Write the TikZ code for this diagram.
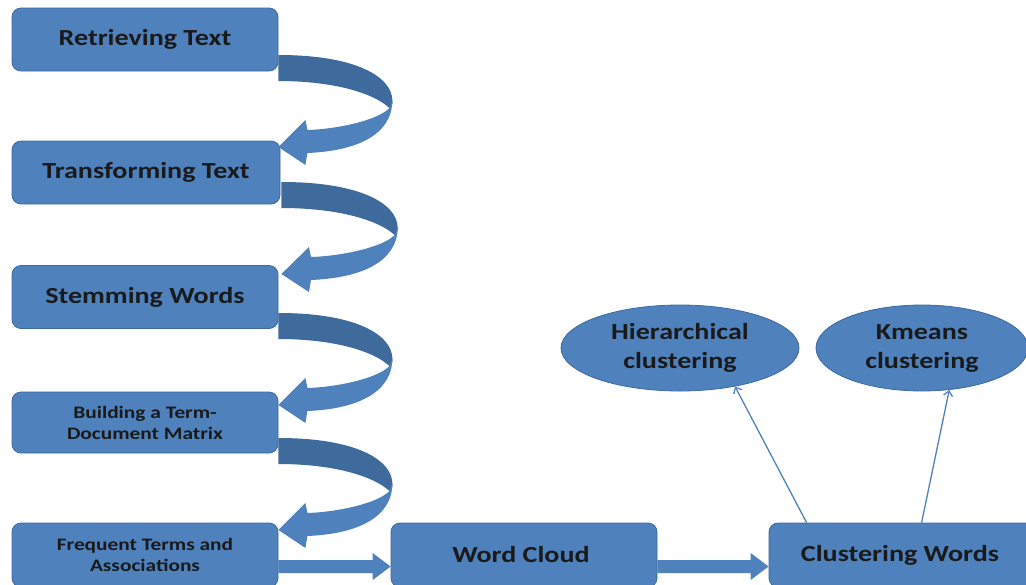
\documentclass[tikz,border=0pt]{standalone}
\usepackage{fontspec}
\setmainfont{Carlito}[FakeStretch=1.22]
\usetikzlibrary{shapes.geometric,calc,arrows.meta}
\definecolor{boxblue}{HTML}{4F81BD}
\definecolor{boxedge}{HTML}{3C6A9E}
\definecolor{ribdark}{HTML}{3F6A9C}
\definecolor{txt}{HTML}{1A1A1A}
\tikzset{
  stepbox/.style={draw=boxedge, fill=boxblue, rounded corners=9pt, minimum width=266pt,
    minimum height=63pt, text=txt, align=center, line width=0.8pt, inner sep=2pt,
    font=\bfseries\fontsize{23}{26}\selectfont},
  smallfont/.style={font=\bfseries\fontsize{17.5}{21}\selectfont},
  ovalnode/.style={ellipse, draw=boxedge, fill=boxblue, text=txt, align=center, line width=0.8pt,
    inner sep=0pt, font=\bfseries\fontsize{23}{29}\selectfont},
  thinarr/.style={draw=boxblue, line width=1.3pt, -{Straight Barb[length=5pt,width=9pt]}}
}
\newcommand\ribbon[2]{%
  \begin{scope}[shift={#1}, xscale=#2]
    \fill[ribdark] (0,0) .. controls (78,0) and (114,22) .. (114,46)
      .. controls (114,50) .. (111,53)
      .. controls (95,38) and (55,26) .. (0,26) -- cycle;
    \fill[boxblue] (114,45) .. controls (114,80) and (78,96) .. (29,98)
      -- (27,110) -- (0,92) -- (27,65) -- (29,75)
      .. controls (60,74) and (100,65) .. (111,53) -- cycle;
  \end{scope}}
\newcommand\blockarr[2]{%
  \fill[boxblue] (#1.east |- 0,560) -- ($(#2.west |- 0,560)+(-18,0)$)
    -- ($(#2.west |- 0,553)+(-18,0)$) -- (#2.west |- 0,566.5)
    -- ($(#2.west |- 0,580)+(-18,0)$) -- ($(#2.west |- 0,573)+(-18,0)$)
    -- (#1.east |- 0,573) -- cycle;}
\begin{document}
\begin{tikzpicture}[x=1pt,y=-1pt]
  \useasboundingbox (0,0) rectangle (1026,584);
  \clip (0,0) rectangle (1026,584);
  \node[stepbox] (r1) at (145,39.5) {Retrieving Text};
  \node[stepbox, minimum width=268pt] (r2) at (146,172.5) {Transforming Text};
  \node[stepbox] (r3) at (145,297) {Stemming Words};
  \node[stepbox, smallfont, minimum height=61pt] (r4) at (145,422.5) {Building a Term-\\Document Matrix};
  \node[stepbox, smallfont, minimum height=64pt] (r5) at (145,555) {Frequent Terms and\\Associations};
  \node[stepbox, minimum height=64pt] (wc) at (524,555) {\hspace*{-6pt}Word Cloud};
  \node[stepbox, minimum height=64pt] (cw) at (902,555) {\hspace*{-4pt}Clustering Words};
  \node[ovalnode, minimum width=238pt, minimum height=86pt] (hier) at (680,348) {Hierarchical\\clustering};
  \node[ovalnode, minimum width=212pt, minimum height=86pt] (km) at (922,348) {Kmeans\\clustering};

  \ribbon{($(r1.east)+(0,15.5)$)}{1}
  \ribbon{($(r2.east)+(1,9.5)$)}{1.02}
  \ribbon{($(r3.east)+(0,16)$)}{1}
  \ribbon{($(r4.east)+(0,15.5)$)}{1}

  \blockarr{r5}{wc}
  \blockarr{wc}{cw}

  \draw[thinarr] ($(cw.north west)+(38,0)$) -- (hier.325);
  \draw[thinarr] ($(cw.north west)+(153,0)$) -- (km.303);
\end{tikzpicture}
\end{document}
